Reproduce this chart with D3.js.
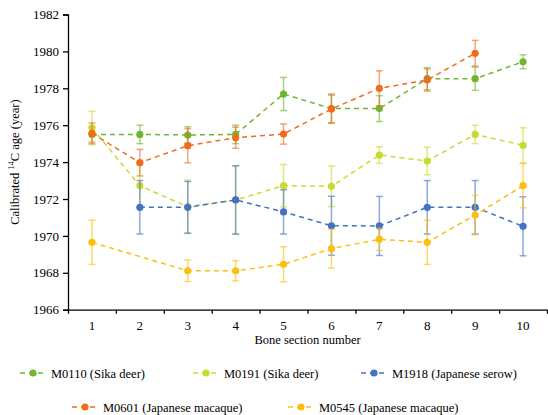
<!DOCTYPE html>
<html>
<head>
<meta charset="utf-8">
<script src="https://cdn.jsdelivr.net/npm/d3@7"></script>
<style>
  body { margin: 0; background: #fff; }
</style>
</head>
<body>
<svg width="548" height="415"></svg>
<script>
// bone section numbers
const sections = [1, 2, 3, 4, 5, 6, 7, 8, 9, 10]
const yTicks = [1966, 1968, 1970, 1972, 1974, 1976, 1978, 1980, 1982]

// mean ages, null = no measurement
const m0110 = [1975.49, 1975.50, 1975.47, 1975.50, 1977.69, 1976.90, 1976.90, 1978.52, 1978.52, 1979.44]
const m0110_err = [0.4, 0.5, 0.45, 0.5, 0.9, 0.8, 0.7, 0.6, 0.63, 0.38]
const m0191 = [1975.85, 1972.72, 1971.58, 1971.95, 1972.72, 1972.69, 1974.38, 1974.06, 1975.50, 1974.91]
const m0191_err = [0.9, 1.2, 1.45, 1.85, 1.15, 1.1, 0.45, 0.75, 0.5, 0.95]
const m1918 = [null, 1971.55, 1971.55, 1971.95, 1971.30, 1970.55, 1970.54, 1971.55, 1971.55, 1970.52]
const m1918_err = [0, 1.45, 1.4, 1.85, 1.2, 1.6, 1.6, 1.45, 1.45, 1.6]
const m0601 = [1975.56, 1973.97, 1974.89, 1975.32, 1975.52, 1976.88, 1978.00, 1978.45, 1979.90, null]
const m0601_err = [0.56, 0.72, 0.93, 0.57, 0.55, 0.75, 0.95, 0.6, 0.7, 0]
const m0545 = [1969.65, null, 1968.11, 1968.11, 1968.46, 1969.31, 1969.82, 1969.65, 1971.13, 1972.72]
const m0545_err = [1.2, 0, 0.58, 0.55, 0.95, 1.05, 0.6, 1.2, 1.07, 1.2]

const series = [
  {name: "M0110 (Sika deer)", vals: m0110, err: m0110_err, color: "#70b52e"},
  {name: "M0191 (Sika deer)", vals: m0191, err: m0191_err, color: "#c9db2e"},
  {name: "M1918 (Japanese serow)", vals: m1918, err: m1918_err, color: "#4472c4"},
  {name: "M0601 (Japanese macaque)", vals: m0601, err: m0601_err, color: "#f26b1d"},
  {name: "M0545 (Japanese macaque)", vals: m0545, err: m0545_err, color: "#fdbf0f"}
]

const FONT = "'Liberation Serif', 'Times New Roman', serif"
const svg = d3.select("svg").attr("font-family", FONT)
const plotL = 68, plotR = 547, plotT = 14.5, plotB = 309.7

let x = d3.scaleLinear().domain([0.5, 10.5]).range([plotL, plotR])
let y = d3.scaleLinear().domain([1966, 1982]).range([plotB, plotT])

// y axis
svg.append("g")
  .attr("transform", `translate(${plotL},0)`)
  .call(d3.axisLeft(y).tickValues(yTicks).tickFormat(d3.format("d")).tickSize(5).tickPadding(4))
  .attr("font-family", FONT).attr("font-size", 13)
  .call(g => g.selectAll("path, line").attr("stroke", "#000").attr("stroke-width", 1.3))
  .call(g => g.selectAll("text").attr("fill", "#000"))

// x axis, ticks on section boundaries
svg.append("g")
  .attr("transform", `translate(0,${plotB})`)
  .call(d3.axisBottom(x).tickValues(d3.range(0.5, 11, 1)).tickFormat("").tickSize(4).tickSizeOuter(0))
  .call(g => g.selectAll("path, line").attr("stroke", "#000").attr("stroke-width", 1.3))

svg.append("g").selectAll("text")
  .data(sections).join("text")
  .attr("x", d => x(d)).attr("y", plotB + 20)
  .attr("text-anchor", "middle").attr("font-size", 13)
  .text(d => d)

svg.append("text")
  .attr("x", (plotL + plotR) / 2).attr("y", 344)
  .attr("text-anchor", "middle").attr("font-size", 12.5)
  .text("Bone section number")

let ylab = svg.append("text")
  .attr("transform", `translate(19,${(plotT + plotB) / 2}) rotate(-90)`)
  .attr("text-anchor", "middle").attr("font-size", 12.5)
ylab.append("tspan").text("Calibrated ")
ylab.append("tspan").attr("font-size", 8.5).attr("dy", -5).text("14")
ylab.append("tspan").attr("dy", 5).text("C age (year)")

// series
series.forEach(s => {
  let pts = s.vals.map((v, i) => ({sec: sections[i], v: v, e: s.err[i]})).filter(d => d.v !== null)
  let g = svg.append("g")

  g.append("path")
    .datum(pts)
    .attr("fill", "none")
    .attr("stroke", s.color)
    .attr("stroke-width", 1.5)
    .attr("stroke-dasharray", "5,4")
    .attr("d", d3.line().x(d => x(d.sec)).y(d => y(d.v)))

  let eb = g.selectAll("g.err").data(pts).join("g")
    .attr("class", "err")
    .attr("stroke", s.color).attr("stroke-opacity", 0.6).attr("stroke-width", 1.5)
  eb.append("line")
    .attr("x1", d => x(d.sec)).attr("x2", d => x(d.sec))
    .attr("y1", d => y(d.v + d.e)).attr("y2", d => y(d.v - d.e))
  eb.append("line")
    .attr("x1", d => x(d.sec) - 3.5).attr("x2", d => x(d.sec) + 3.5)
    .attr("y1", d => y(d.v + d.e)).attr("y2", d => y(d.v + d.e))
  eb.append("line")
    .attr("x1", d => x(d.sec) - 3.5).attr("x2", d => x(d.sec) + 3.5)
    .attr("y1", d => y(d.v - d.e)).attr("y2", d => y(d.v - d.e))

  g.selectAll("circle").data(pts).join("circle")
    .attr("cx", d => x(d.sec)).attr("cy", d => y(d.v))
    .attr("r", 3.6).attr("fill", s.color)
})

// legend
const legendPos = [[20, 373], [193, 373], [361, 373], [72, 407], [288, 407]]
series.forEach((s, i) => {
  let [lx, ly] = legendPos[i]
  let g = svg.append("g").attr("transform", `translate(${lx},${ly})`)
  g.append("line").attr("x1", 0).attr("x2", 26).attr("y1", 0).attr("y2", 0)
    .attr("stroke", s.color).attr("stroke-width", 1.5).attr("stroke-dasharray", "5,4")
  g.append("circle").attr("cx", 13).attr("cy", 0).attr("r", 3.6).attr("fill", s.color)
  g.append("text").attr("x", 31).attr("y", 4.5).attr("font-size", 12.5).text(s.name)
})
</script>
</body>
</html>
